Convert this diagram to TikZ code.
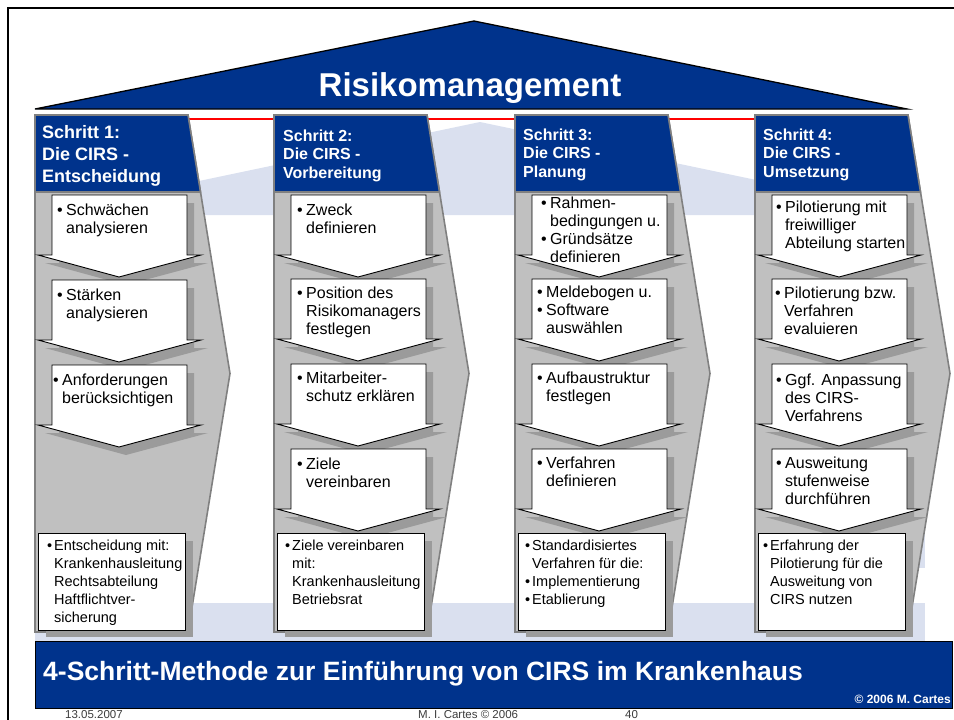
\documentclass[tikz,border=0pt]{standalone}
\usepackage{fontspec}
\setmainfont{Liberation Sans}

\definecolor{navy}{RGB}{0,51,140}
\definecolor{paleblue}{RGB}{218,224,239}
\definecolor{pillargray}{RGB}{192,192,192}
\definecolor{edgegray}{RGB}{128,128,128}
\definecolor{shadegray}{RGB}{155,155,155}
\definecolor{footgray}{RGB}{60,60,60}
\definecolor{rulered}{RGB}{255,0,0}

% bullets with hanging indent
\newcommand\pbul{\makebox[9pt][l]{\textbullet}}
\newcommand\pind{\hspace*{9pt}}
\newcommand\sbul{\makebox[7pt][l]{\textbullet}}
\newcommand\sind{\hspace*{7pt}}
\newcommand\fstrut{\rule{0pt}{15pt}}

\tikzset{
  pillar/.style={fill=pillargray, draw=edgegray, line width=1.6pt, line join=miter},
  header/.style={fill=navy, draw=edgegray, line width=1.6pt},
  shade/.style={fill=shadegray},
  card/.style={fill=white, draw=black, line width=0.9pt},
  cardtext/.style={anchor=north west, inner sep=0pt, align=left,
    font=\fontsize{16}{18}\selectfont},
  smalltext/.style={cardtext, font=\fontsize{14.5}{18}\selectfont},
  headtext/.style={anchor=north west, inner sep=0pt, align=left, text=white,
    font=\fontsize{16}{18.5}\selectfont\bfseries},
}

% #1 top, #2 node name, #3 bullet x, #4 first baseline, #5 text
\newcommand\stepdown[5]{%
  \fill[shade] (24,#1+8) -- (159,#1+8) -- (159,#1+68) -- (173,#1+68)
    -- (91,#1+90) -- (10,#1+68) -- (24,#1+68) -- cycle;
  \draw[card] (17,#1) -- (152,#1) -- (152,#1+60) -- (166,#1+60)
    -- (84,#1+82) -- (3,#1+60) -- (17,#1+60) -- cycle;
  \node[cardtext] (#2) at (#3,#4-15) {\fstrut #5};
}
% #1 node name, #2 bullet x, #3 text
\newcommand\finalcard[3]{%
  \fill[shade] (11,541) rectangle (158,637);
  \draw[card] (3,533) rectangle (150,630);
  \node[smalltext] (#1) at (#2,535) {\fstrut #3};
}
% pillar body with its navy head
\newcommand\pillarbody{%
  \path[pillar] (0,115) -- (153,115) -- (195,373.5) -- (153,632) -- (0,632) -- cycle;
  \path[header] (0,115) -- (153,115) -- (165.5,192) -- (0,192) -- cycle;
}

\begin{document}
\begin{tikzpicture}[x=1pt,y=-1pt]
\useasboundingbox (0,0) rectangle (954,720);

% page frame
\draw[line width=2pt] (8,8) rectangle (990,760);

% pale backdrop
\fill[paleblue] (37,215) -- (480,122) -- (923,215) -- cycle;
\fill[paleblue] (860,500) rectangle (925,568);
\fill[paleblue] (35,603) rectangle (925,641);

% thin red rule under the roof
\draw[rulered, line width=1.2pt] (35,119) -- (907,119);

% roof
\draw[fill=navy, line width=1.3pt, line join=miter] (35,109) -- (474,21) -- (907,109) -- cycle;
\node[anchor=base, inner sep=0pt, text=white, font=\fontsize{33}{33}\selectfont\bfseries]
  (title) at (470,96) {Risikomanagement};

% step 1
\begin{scope}[xshift=35pt]
  \pillarbody
  \node[headtext, font=\fontsize{18}{22}\selectfont\bfseries] (h1) at (7,123)
    {\fstrut Schritt 1:\\Die CIRS -\\Entscheidung};
  \stepdown{195}{s1a}{22}{215}{\pbul Schwächen\\\pind analysieren}
  \stepdown{280}{s1b}{22}{300}{\pbul Stärken\\\pind analysieren}
  \stepdown{365}{s1c}{18}{385}{\pbul Anforderungen\\\pind berücksichtigen}
  \finalcard{f1}{12}{\sbul Entscheidung mit:\\\sind Krankenhausleitung\\\sind Rechtsabteilung\\\sind Haftflichtver-\\\sind sicherung}
\end{scope}

% step 2
\begin{scope}[xshift=274pt]
  \pillarbody
  \node[headtext] (h2) at (9,126) {\fstrut Schritt 2:\\Die CIRS -\\Vorbereitung};
  \stepdown{195}{s2a}{23}{215}{\pbul Zweck\\\pind definieren}
  \stepdown{279}{s2b}{23}{298}{\pbul Position des\\\pind Risikomanagers\\\pind festlegen}
  \stepdown{364}{s2c}{23}{383}{\pbul Mitarbeiter-\\\pind schutz erklären}
  \stepdown{449}{s2d}{23}{469}{\pbul Ziele\\\pind vereinbaren}
  \finalcard{f2}{11}{\sbul Ziele vereinbaren\\\sind mit:\\\sind Krankenhausleitung\\\sind Betriebsrat}
\end{scope}

% step 3
\begin{scope}[xshift=515pt]
  \pillarbody
  \node[headtext] (h3) at (8,125) {\fstrut Schritt 3:\\Die CIRS -\\Planung};
  \stepdown{195}{s3a}{26}{208}{\pbul Rahmen-\\\pind bedingungen u.\\\pbul Gründsätze\\\pind definieren}
  \stepdown{279}{s3b}{22}{297}{\pbul Meldebogen u.\\\pbul Software\\\pind auswählen}
  \stepdown{364}{s3c}{22}{383}{\pbul Aufbaustruktur\\\pind festlegen}
  \stepdown{449}{s3d}{22}{468}{\pbul Verfahren\\\pind definieren}
  \finalcard{f3}{10}{\sbul Standardisiertes\\\sind Verfahren für die:\\\sbul Implementierung\\\sbul Etablierung}
\end{scope}

% step 4
\begin{scope}[xshift=755pt]
  \pillarbody
  \node[headtext] (h4) at (8,125) {\fstrut Schritt 4:\\Die CIRS -\\Umsetzung};
  \stepdown{195}{s4a}{21}{212}{\pbul Pilotierung mit\\\pind freiwilliger\\\pind Abteilung starten}
  \stepdown{279}{s4b}{20}{298}{\pbul Pilotierung bzw.\\\pind Verfahren\\\pind evaluieren}
  \stepdown{364}{s4c}{21}{385}{\pbul Ggf. Anpassung\\\pind des CIRS-\\\pind Verfahrens}
  \stepdown{449}{s4d}{21}{468}{\pbul Ausweitung\\\pind stufenweise\\\pind durchführen}
  \finalcard{f4}{8}{\sbul Erfahrung der\\\sind Pilotierung für die\\\sind Ausweitung von\\\sind CIRS nutzen}
\end{scope}

% foundation banner
\draw[fill=navy, line width=1pt] (35,641) rectangle (952,708);
\node[anchor=base west, inner sep=0pt, text=white, font=\fontsize{26.5}{26.5}\selectfont\bfseries]
  (method) at (43,680) {4-Schritt-Methode zur Einführung von CIRS im Krankenhaus};
\node[anchor=base east, inner sep=0pt, text=white, font=\fontsize{12}{12}\selectfont\bfseries]
  (copy) at (951,703) {© 2006 M. Cartes};

% footer line
\node[anchor=base west, inner sep=0pt, text=footgray, font=\fontsize{11.5}{12}\selectfont]
  (date) at (65,718) {13.05.2007};
\node[anchor=base west, inner sep=0pt, text=footgray, font=\fontsize{11.5}{12}\selectfont]
  (author) at (418,718) {M. I. Cartes © 2006};
\node[anchor=base west, inner sep=0pt, text=footgray, font=\fontsize{11.5}{12}\selectfont]
  (page) at (625,718) {40};
\end{tikzpicture}
\end{document}
